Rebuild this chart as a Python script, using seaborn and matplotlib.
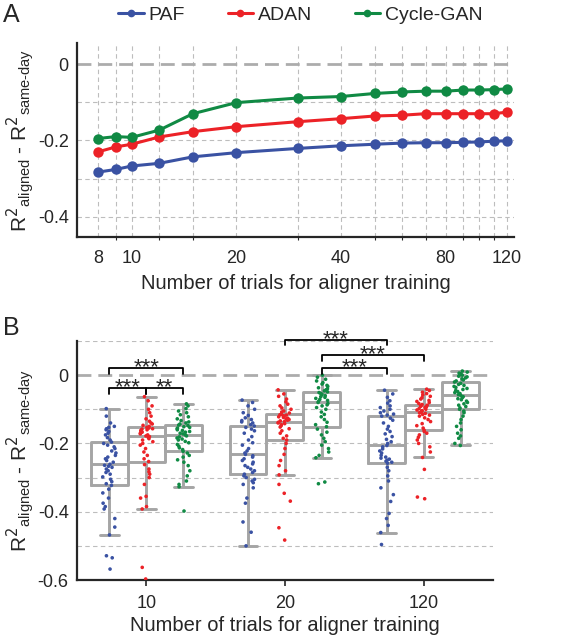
import matplotlib
matplotlib.use("Agg")
import matplotlib.pyplot as plt
import numpy as np
import pandas as pd
import seaborn as sns

sns.set_style("ticks")
plt.rcParams.update({
    "font.family": ["Liberation Sans", "DejaVu Sans"],
    "axes.spines.top": False, "axes.spines.right": False,
    "axes.linewidth": 1.6,
})

METHODS = ["PAF", "ADAN", "Cycle-GAN"]
COLORS = {"PAF": "#3a52a3", "ADAN": "#ec2227", "Cycle-GAN": "#108a44"}

# panel A: mean difference vs number of trials
trials = [8, 9, 10, 12, 15, 20, 30, 40, 50, 60, 70, 80, 90, 100, 110, 120]
paf_mean = [-0.283, -0.276, -0.267, -0.260, -0.243, -0.232, -0.221, -0.214,
            -0.210, -0.207, -0.206, -0.206, -0.205, -0.204, -0.202, -0.201]
adan_mean = [-0.230, -0.217, -0.210, -0.191, -0.177, -0.164, -0.151, -0.143,
             -0.136, -0.134, -0.130, -0.130, -0.130, -0.130, -0.130, -0.126]
cyc_mean = [-0.195, -0.190, -0.192, -0.173, -0.130, -0.101, -0.089, -0.085,
            -0.077, -0.073, -0.071, -0.071, -0.068, -0.068, -0.067, -0.065]

# panel B: per-session values for 10, 20 and 120 trials
groups = ["10", "20", "120"]
paf_10 = [-0.568, -0.535, -0.529, -0.468, -0.445, -0.42, -0.392, -0.385, -0.375, -0.36,
          -0.345, -0.334, -0.323, -0.318, -0.312, -0.305, -0.298, -0.29, -0.285, -0.28,
          -0.275, -0.27, -0.267, -0.264, -0.261, -0.255, -0.25, -0.245, -0.24, -0.235,
          -0.228, -0.222, -0.215, -0.21, -0.205, -0.2, -0.196, -0.19, -0.183, -0.175,
          -0.17, -0.165, -0.16, -0.157, -0.153, -0.15, -0.14, -0.12, -0.098]
adan_10 = [-0.597, -0.563, -0.392, -0.385, -0.36, -0.355, -0.32, -0.3, -0.29, -0.283,
           -0.275, -0.262, -0.253, -0.245, -0.235, -0.225, -0.215, -0.205, -0.2, -0.195,
           -0.19, -0.186, -0.183, -0.18, -0.178, -0.175, -0.172, -0.17, -0.167, -0.165,
           -0.163, -0.161, -0.16, -0.158, -0.157, -0.155, -0.153, -0.15, -0.147, -0.143,
           -0.14, -0.135, -0.128, -0.12, -0.11, -0.1, -0.09, -0.075, -0.063]
cyc_10 = [-0.398, -0.327, -0.32, -0.31, -0.295, -0.28, -0.265, -0.255, -0.248, -0.24,
          -0.235, -0.228, -0.223, -0.218, -0.213, -0.208, -0.203, -0.198, -0.194, -0.19,
          -0.187, -0.184, -0.181, -0.178, -0.175, -0.172, -0.17, -0.167, -0.165, -0.162,
          -0.16, -0.157, -0.155, -0.153, -0.151, -0.148, -0.146, -0.143, -0.14, -0.137,
          -0.133, -0.128, -0.122, -0.116, -0.11, -0.105, -0.098, -0.09, -0.084]
paf_20 = [-0.5, -0.46, -0.43, -0.375, -0.36, -0.33, -0.32, -0.315, -0.31, -0.305,
          -0.3, -0.295, -0.29, -0.285, -0.28, -0.275, -0.27, -0.265, -0.26, -0.255,
          -0.25, -0.245, -0.24, -0.236, -0.232, -0.228, -0.222, -0.215, -0.205, -0.198,
          -0.19, -0.18, -0.17, -0.163, -0.158, -0.153, -0.149, -0.145, -0.14, -0.137,
          -0.133, -0.13, -0.125, -0.118, -0.11, -0.1, -0.09, -0.08, -0.073]
adan_20 = [-0.483, -0.447, -0.369, -0.346, -0.32, -0.292, -0.28, -0.265, -0.25, -0.232,
           -0.215, -0.2, -0.19, -0.185, -0.178, -0.17, -0.163, -0.157, -0.152, -0.148,
           -0.145, -0.142, -0.14, -0.138, -0.136, -0.134, -0.132, -0.13, -0.128, -0.126,
           -0.124, -0.122, -0.12, -0.119, -0.117, -0.116, -0.114, -0.111, -0.108, -0.105,
           -0.1, -0.096, -0.09, -0.085, -0.078, -0.07, -0.062, -0.055, -0.043]
cyc_20 = [-0.318, -0.313, -0.242, -0.235, -0.225, -0.215, -0.205, -0.195, -0.185, -0.175,
          -0.167, -0.158, -0.151, -0.145, -0.138, -0.13, -0.122, -0.115, -0.108, -0.1,
          -0.095, -0.09, -0.087, -0.083, -0.08, -0.077, -0.074, -0.071, -0.068, -0.065,
          -0.063, -0.06, -0.058, -0.056, -0.054, -0.051, -0.049, -0.046, -0.043, -0.04,
          -0.037, -0.033, -0.03, -0.026, -0.022, -0.017, -0.012, -0.006, 0.0]
paf_120 = [-0.496, -0.461, -0.44, -0.42, -0.405, -0.37, -0.35, -0.33, -0.31, -0.295,
           -0.28, -0.27, -0.258, -0.255, -0.252, -0.249, -0.246, -0.243, -0.24, -0.235,
           -0.228, -0.222, -0.216, -0.21, -0.206, -0.2, -0.195, -0.188, -0.18, -0.172,
           -0.165, -0.158, -0.15, -0.14, -0.132, -0.126, -0.12, -0.117, -0.114, -0.11,
           -0.105, -0.1, -0.095, -0.09, -0.082, -0.075, -0.065, -0.055, -0.044]
adan_120 = [-0.362, -0.357, -0.276, -0.241, -0.225, -0.21, -0.2, -0.19, -0.182, -0.175,
            -0.17, -0.165, -0.161, -0.155, -0.148, -0.142, -0.136, -0.13, -0.125, -0.12,
            -0.117, -0.115, -0.112, -0.11, -0.108, -0.106, -0.104, -0.102, -0.1, -0.098,
            -0.096, -0.094, -0.093, -0.091, -0.09, -0.088, -0.086, -0.083, -0.08, -0.077,
            -0.074, -0.07, -0.066, -0.062, -0.058, -0.054, -0.05, -0.045, -0.041]
cyc_120 = [-0.206, -0.2, -0.185, -0.178, -0.17, -0.16, -0.15, -0.14, -0.13, -0.12,
           -0.11, -0.105, -0.1, -0.096, -0.092, -0.088, -0.084, -0.08, -0.076, -0.072,
           -0.069, -0.066, -0.063, -0.06, -0.057, -0.054, -0.051, -0.048, -0.045, -0.042,
           -0.039, -0.036, -0.033, -0.03, -0.027, -0.024, -0.02, -0.017, -0.014, -0.011,
           -0.008, -0.005, -0.003, 0.0, 0.002, 0.004, 0.006, 0.009, 0.012]

# significance brackets: (group, method left, group, method right, height, label)
brackets = [
    ("10", "PAF", "10", "ADAN", -0.039, "***"),
    ("10", "ADAN", "10", "Cycle-GAN", -0.039, "**"),
    ("10", "PAF", "10", "Cycle-GAN", 0.021, "***"),
    ("20", "ADAN", "120", "PAF", 0.104, "***"),
    ("20", "Cycle-GAN", "120", "ADAN", 0.059, "***"),
    ("20", "Cycle-GAN", "120", "PAF", 0.021, "***"),
]

YLABEL = (r"R$^{2}{}_{\mathregular{aligned}}$ - "
          "R$^{2}{}_{\\mathregular{same\u2010day}}$")
XLABEL = "Number of trials for aligner training"

df_a = pd.DataFrame({
    "trials": trials * 3,
    "delta": paf_mean + adan_mean + cyc_mean,
    "method": ["PAF"] * len(trials) + ["ADAN"] * len(trials) + ["Cycle-GAN"] * len(trials),
})

rows = []
box_data = {"PAF": [paf_10, paf_20, paf_120],
            "ADAN": [adan_10, adan_20, adan_120],
            "Cycle-GAN": [cyc_10, cyc_20, cyc_120]}
for m in METHODS:
    for g, vals in zip(groups, box_data[m]):
        for v in vals:
            rows.append((g, m, v))
df_b = pd.DataFrame(rows, columns=["trials", "method", "delta"])

fig = plt.figure(figsize=(5.81, 6.38), dpi=100)
ax_a = fig.add_axes([0.1325, 0.6285, 0.752, 0.304])
ax_b = fig.add_axes([0.1325, 0.0909, 0.716, 0.3746])

grid_kw = dict(color="#bdbdbd", lw=0.8, ls=(0, (4, 3)), zorder=0)
zero_kw = dict(color="#acacac", lw=2.0, ls=(0, (5, 2.5)), zorder=0.5)

# ---- panel A
sns.lineplot(data=df_a, x="trials", y="delta", hue="method", hue_order=METHODS,
             palette=COLORS, marker="o", markersize=7.5, markeredgewidth=0,
             linewidth=2.2, ax=ax_a, legend=True)
ax_a.set_xscale("log")
ax_a.set_xlim(6.96, 125.7)
ax_a.set_ylim(-0.453, 0.055)
for t in trials:
    ax_a.axvline(t, **grid_kw)
for yv in [-0.1, -0.2, -0.3, -0.4]:
    ax_a.axhline(yv, **grid_kw)
ax_a.axhline(0, **zero_kw)
ax_a.set_xticks([8, 10, 20, 40, 80, 120])
ax_a.set_xticklabels(["8", "10", "20", "40", "80", "120"])
ax_a.set_xticks(trials, minor=True)
ax_a.xaxis.set_minor_formatter(matplotlib.ticker.NullFormatter())
ax_a.set_yticks([0, -0.2, -0.4])
ax_a.set_yticklabels(["0", "-0.2", "-0.4"])
ax_a.tick_params(axis="y", which="major", length=0, labelsize=13, pad=6)
ax_a.tick_params(axis="x", which="major", length=0, labelsize=13, pad=9.5)
ax_a.tick_params(axis="x", which="minor", length=2.5, width=0.8)
ax_a.set_xlabel(XLABEL, fontsize=14.5, labelpad=5)
ax_a.set_ylabel(YLABEL, fontsize=15, labelpad=1)

handles, labels = ax_a.get_legend_handles_labels()
ax_a.get_legend().remove()
for h in handles:
    h.set_markersize(5.5)
fig.legend(handles, labels, loc="center", bbox_to_anchor=(0.517, 0.976), ncol=3,
           frameon=False, fontsize=14, handlelength=1.3, handletextpad=0.25,
           columnspacing=2.2)

# ---- panel B
sns.boxplot(data=df_b, x="trials", y="delta", hue="method", order=groups,
            hue_order=METHODS, palette={m: "#a5a5a5" for m in METHODS},
            fill=False, showfliers=False, width=0.8, linewidth=2.1,
            legend=False, ax=ax_b)
np.random.seed(3)
sns.stripplot(data=df_b, x="trials", y="delta", hue="method", order=groups,
              hue_order=METHODS, palette=COLORS, dodge=True, jitter=0.15,
              size=2.6, linewidth=0, legend=False, ax=ax_b, zorder=3)
ax_b.set_xlim(-0.5, 2.5)
ax_b.set_ylim(-0.6, 0.1)
for yv in [0.1, -0.1, -0.2, -0.3, -0.4, -0.5]:
    ax_b.axhline(yv, **grid_kw)
ax_b.axhline(0, **zero_kw)
ax_b.set_yticks([0, -0.2, -0.4, -0.6])
ax_b.set_yticklabels(["0", "-0.2", "-0.4", "-0.6"])
ax_b.tick_params(axis="y", length=0, labelsize=13, pad=6)
ax_b.tick_params(axis="x", length=4, width=1.2, labelsize=13, pad=7)
ax_b.set_xlabel(XLABEL, fontsize=14.5, labelpad=3)
ax_b.set_ylabel(YLABEL, fontsize=15, labelpad=1)

off = 0.8 / 3
pos = {m: (i - 1) * off for i, m in enumerate(METHODS)}
for g1, m1, g2, m2, yb, lab in brackets:
    x1 = groups.index(g1) + pos[m1]
    x2 = groups.index(g2) + pos[m2]
    ax_b.plot([x1, x1, x2, x2], [yb - 0.017, yb, yb, yb - 0.017], color="black",
              lw=1.3, clip_on=False, zorder=4)
    ax_b.text((x1 + x2) / 2, yb - 0.015, lab, ha="center", va="baseline",
              fontsize=16, clip_on=False, zorder=4)

fig.text(0.005, 0.976, "A", fontsize=18, va="center", ha="left")
fig.text(0.005, 0.486, "B", fontsize=18, va="center", ha="left")

fig.savefig("out.png", dpi=100)
